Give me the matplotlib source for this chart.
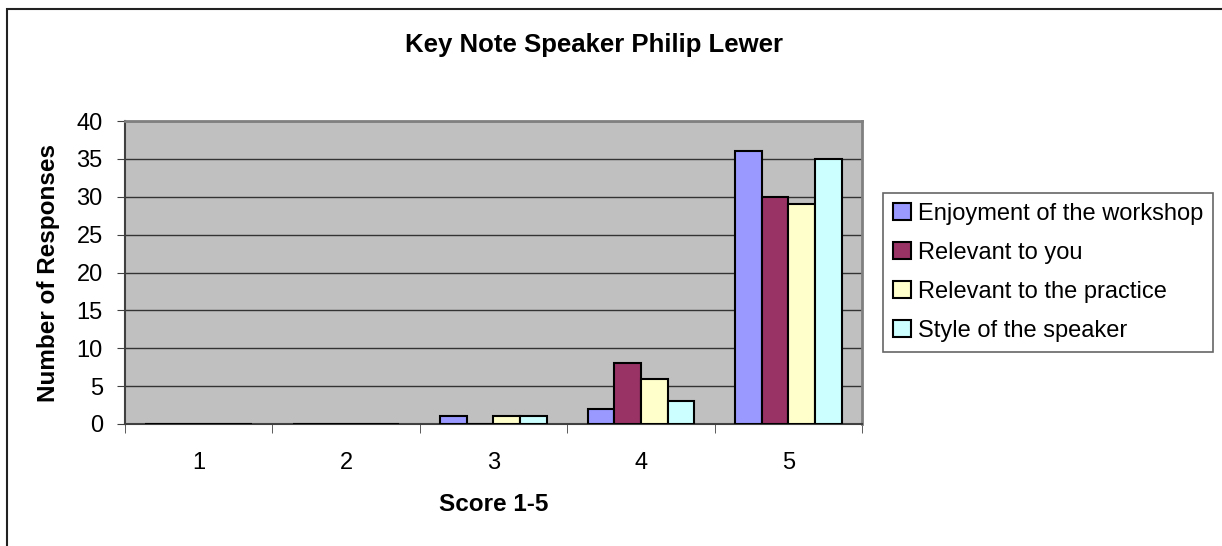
#!/usr/bin/env python
import numpy as np
import matplotlib
matplotlib.use('Agg')
import matplotlib.pyplot as plt
from matplotlib.patches import Rectangle

plt.rcParams['font.family'] = ['Liberation Sans', 'DejaVu Sans']

scores = ['1', '2', '3', '4', '5']
enjoyment = [0, 0, 1, 2, 36]
relevant_you = [0, 0, 0, 8, 30]
relevant_practice = [0, 0, 1, 6, 29]
style_speaker = [0, 0, 1, 3, 35]
series_names = ['Enjoyment of the workshop',
                'Relevant to you',
                'Relevant to the practice',
                'Style of the speaker']

series = [enjoyment, relevant_you, relevant_practice, style_speaker]
colors = ['#9999FF', '#993366', '#FFFFCC', '#CCFFFF']

fig = plt.figure(figsize=(12.22, 5.46), dpi=100)
ax = fig.add_axes([125/1222, 1 - 424/546, (862 - 125)/1222, (424 - 121)/546])

x = np.arange(len(scores))
w = 0.181
for i, (vals, col, name) in enumerate(zip(series, colors, series_names)):
    ax.bar(x + (i - 1.5)*w, vals, width=w, color=col,
           edgecolor='black', linewidth=1.5, label=name, zorder=3)

ax.set_facecolor('#C0C0C0')
ax.set_xlim(-0.5, len(scores) - 0.5)
ax.set_ylim(0, 40)
ax.set_yticks(np.arange(0, 41, 5))
ax.yaxis.grid(True, color='#333333', linewidth=1.0, zorder=1)
ax.set_axisbelow(True)

ax.set_xticks(x)
ax.set_xticklabels(scores)
ax.set_xticks(np.arange(-0.5, len(scores), 1), minor=True)
ax.tick_params(axis='x', which='major', length=0, pad=20, labelsize=17)
ax.tick_params(axis='x', which='minor', length=6.5, color='#404040', direction='out')
ax.tick_params(axis='y', length=6, color='#404040', labelsize=17, pad=10)

for s in ['top', 'right']:
    ax.spines[s].set_color('#808080')
    ax.spines[s].set_linewidth(2)
for s in ['left', 'bottom']:
    ax.spines[s].set_color('#404040')
    ax.spines[s].set_linewidth(1.5)

ax.set_ylabel('Number of Responses', fontsize=17.5, fontweight='bold', labelpad=12)
ax.set_xlabel('Score 1-5', fontsize=17.5, fontweight='bold', labelpad=14)
# title is centred on the (wider) chart area, so it sits right of the plot centre
fig.text(405/1222, 1 - 52/546, 'Key Note Speaker Philip Lewer',
         ha='left', va='baseline', fontsize=18.5, fontweight='bold')

leg = ax.legend(loc='upper left', bbox_to_anchor=(883/1222, 1 - 193/546),
                bbox_transform=fig.transFigure, fontsize=17, frameon=True,
                fancybox=False, borderpad=0.42, labelspacing=0.72,
                handlelength=0.75, handleheight=0.75, handletextpad=0.3,
                borderaxespad=0)
leg.get_frame().set_edgecolor('#404040')
leg.get_frame().set_linewidth(1.2)

fig.patches.append(Rectangle((7/1222, -0.1), 1.1, 1.1 - 9/546, fill=False,
                             edgecolor='#222222', linewidth=1.5,
                             transform=fig.transFigure, figure=fig))

fig.savefig('out.png', dpi=100)
